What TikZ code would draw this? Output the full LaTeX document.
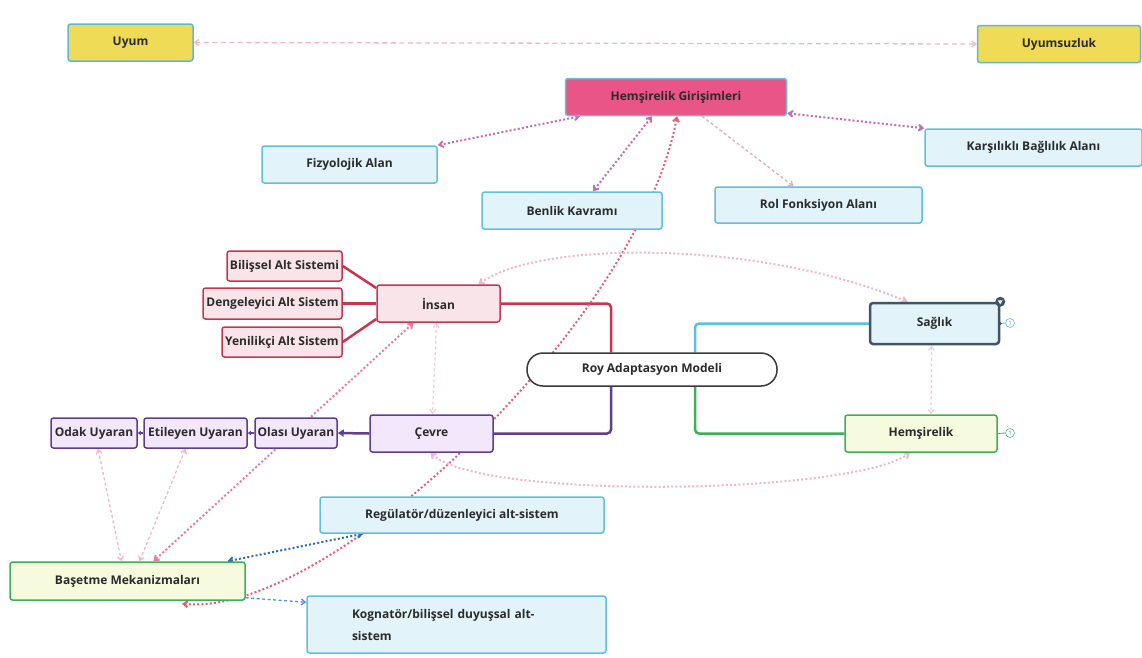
\documentclass[tikz,border=0pt]{standalone}
\usepackage{fontspec}
\setmainfont{Open Sans}
\usetikzlibrary{arrows.meta,backgrounds}
\definecolor{txt}{HTML}{2B2B2B}
\definecolor{yelfill}{HTML}{EFDB55}
\definecolor{tealb}{HTML}{5EB9CC}
\definecolor{hgfill}{HTML}{E95587}
\definecolor{bluefill}{HTML}{E2F3FA}
\definecolor{blueb}{HTML}{62BFD9}
\definecolor{redb}{HTML}{C73651}
\definecolor{redfill}{HTML}{F8E4E9}
\definecolor{purpb}{HTML}{5F3E8E}
\definecolor{purpfill}{HTML}{F2E7FB}
\definecolor{greenb}{HTML}{3DAF58}
\definecolor{greenfill}{HTML}{F6FADF}
\definecolor{roybord}{HTML}{3A3A3A}
\definecolor{sagb}{HTML}{3F5566}
\definecolor{relpurp}{HTML}{C66CB4}
\definecolor{relred}{HTML}{E0607E}
\definecolor{relpink}{HTML}{E57C9B}
\definecolor{lightpink}{HTML}{F2B6C6}
\definecolor{palepink}{HTML}{F5CBD7}
\definecolor{relgray}{HTML}{D9AFC2}
\definecolor{relblue}{HTML}{2E6DB4}
\definecolor{relblue2}{HTML}{5A8FD6}
\definecolor{cyanline}{HTML}{5BC0DE}
\begin{document}
\begin{tikzpicture}[x=1pt,y=-1pt,
  font=\fontsize{12}{14}\selectfont\bfseries,
  base/.style={draw, rounded corners=2.5pt, line width=1.5pt, text=txt, inner sep=0pt, minimum height=37pt},
  yelbox/.style={base, fill=yelfill, draw=tealb},
  hgbox/.style={base, fill=hgfill, draw=blueb},
  bluebox/.style={base, fill=bluefill, draw=blueb},
  redbox/.style={base, fill=redfill, draw=redb, minimum height=30pt},
  purpbox/.style={base, fill=purpfill, draw=purpb, minimum height=30pt},
  greenbox/.style={base, fill=greenfill, draw=greenb},
  tree/.style={line width=2.5pt, rounded corners=4pt},
  barbs/.style={{Straight Barb[length=4pt,width=6pt]}-{Straight Barb[length=4pt,width=6pt]}},
  onebarb/.style={-{Straight Barb[length=4pt,width=6pt]}},
  reldot/.style={line width=2pt, dash pattern=on 2pt off 2.2pt, barbs},
  relthin/.style={line width=1.3pt, dash pattern=on 3pt off 2.5pt, barbs},
  counter/.style={circle, draw=cyanline, line width=0.6pt, fill=white, inner sep=0pt, minimum size=9pt, font=\fontsize{6}{6}\selectfont\mdseries, text=cyanline!80!black}
]
\useasboundingbox (0,0) rectangle (1142,657);

% top
\node[yelbox, minimum width=125pt] (uyum) at (130.5,42.5) {Uyum};
\node[yelbox, minimum width=163pt] (uyz) at (1059,44) {Uyumsuzluk};
\node[hgbox, minimum width=221pt] (hg) at (676,97) {Hemşirelik Girişimleri};
\node[bluebox, minimum width=175pt] (fiz) at (349.5,164.5) {Fizyolojik Alan};
\node[bluebox, minimum width=180pt] (ben) at (572,210.5) {Benlik Kavramı};
\node[bluebox, minimum width=207pt, minimum height=36pt] (rol) at (818.5,205) {Rol Fonksiyon Alanı};
\node[bluebox, minimum width=217pt] (kar) at (1033.5,147.5) {Karşılıklı Bağlılık Alanı};

% insan cluster
\node[redbox, minimum width=115pt] (bil) at (284.5,266) {Bilişsel Alt Sistemi};
\node[redbox, minimum width=139pt, minimum height=31pt] (den) at (272.5,303.5) {Dengeleyici Alt Sistem};
\node[redbox, minimum width=120pt] (yen) at (282,342) {Yenilikçi Alt Sistem};
\node[redbox, minimum width=123pt, minimum height=37pt] (ins) at (438.5,303.5) {İnsan};

% center
\node[base, fill=white, draw=roybord, rounded corners=16pt, minimum width=250pt, minimum height=33pt] (roy) at (652,369.5) {Roy Adaptasyon Modeli};
\node[base, fill=bluefill, draw=sagb, line width=2.5pt, rounded corners=3pt, minimum width=129pt, minimum height=41pt] (sag) at (934.5,323.5) {Sağlık};
\node[greenbox, minimum width=152pt] (hem) at (921,433.5) {Hemşirelik};

% cevre cluster
\node[purpbox, minimum width=123pt, minimum height=37pt] (cev) at (431.5,433.5) {Çevre};
\node[purpbox, minimum width=82pt] (ola) at (296,433) {Olası Uyaran};
\node[purpbox, minimum width=103pt] (eti) at (195.5,433) {Etileyen Uyaran};
\node[purpbox, minimum width=86pt] (odak) at (94,433) {Odak Uyaran};

% bottom
\node[bluebox, minimum width=284pt, minimum height=36pt] (reg) at (462,515) {Regülatör/düzenleyici alt-sistem};
\node[greenbox, minimum width=235pt, minimum height=38pt] (bas) at (127.5,581) {Başetme Mekanizmaları};
\node[bluebox, minimum width=299pt, minimum height=57pt, text width=299pt, align=left, font=\fontsize{12}{22}\selectfont\bfseries] (kog) at (456.5,624.5) {\hspace*{45pt}Kognatör/bilişsel duyuşsal alt-\\\hspace*{45pt}sistem};

% counters and pin
\node[counter] (sagc) at (1010,323) {1};
\node[counter, draw=greenb!60!cyanline, text=greenb!80!black] (hemc) at (1010,433) {1};
\draw[cyanline, line width=0.8pt] (sag.east) -- (sagc.west);
\fill[sagb] (sag.east) circle (1.5pt);
\draw[greenb, line width=0.8pt] (hem.east) -- (hemc.west);
\node[circle, fill=sagb, inner sep=0pt, minimum size=10pt] (pin) at (sag.north east) {};
\fill[white] ([xshift=-2.5pt,yshift=1.5pt]pin.center) -- ([xshift=2.5pt,yshift=1.5pt]pin.center) -- ([yshift=-2.5pt]pin.center) -- cycle;

\begin{scope}[on background layer]
% tree connectors
\draw[tree, redb] (ins.east) -| ([xshift=-41pt]roy.north);
\draw[tree, purpb] ([xshift=-41pt]roy.south) |- (cev.east);
\draw[tree, cyanline] ([xshift=43pt]roy.north) |- (sag.west);
\draw[tree, greenb] ([xshift=43pt]roy.south) |- (hem.west);
\draw[redb, line width=2.5pt] (bil.east) -- ([yshift=15.5pt]ins.west);
\draw[redb, line width=2.5pt] (den.east) -- (ins.west);
\draw[redb, line width=2.5pt] (yen.east) -- ([yshift=-15.5pt]ins.west);
\draw[purpb, line width=2.5pt, -{Triangle[length=6pt,width=7pt]}] (cev.west) -- (ola.east);
\draw[purpb, line width=1.3pt, -{Triangle[length=3pt,width=4pt]}] (ola.west) -- (eti.east);
\draw[purpb, line width=1.3pt, -{Triangle[length=3pt,width=4pt]}] (eti.west) -- (odak.east);

% relationship lines
\draw[relthin, lightpink, dash pattern=on 5pt off 3.5pt] (uyum.east) -- (uyz.west);
\draw[reldot, relpurp] ([xshift=-96pt]hg.south) -- (fiz.north east);
\draw[reldot, relpurp] ([xshift=-24pt]hg.south) -- ([xshift=21pt]ben.north);
\draw[reldot, relpurp] ([yshift=3pt]hg.south east) -- (kar.north west);
\draw[relthin, relgray, onebarb] ([xshift=26pt]hg.south) -- ([xshift=-25pt]rol.north);
\draw[reldot, relred] ([xshift=54.5pt,yshift=-3pt]bas.south) .. controls (330,618) and (640,320) .. ([xshift=1pt]hg.south);
\draw[reldot, lightpink] ([xshift=40pt]ins.north) .. controls (540,240) and (760,240) .. ([xshift=-27pt]sag.north);
\draw[relthin, palepink] ([xshift=-2pt]ins.south) -- ([xshift=1pt]cev.north);
\draw[reldot, relpink] ([xshift=-25pt]ins.south) -- ([xshift=26pt]bas.north);
\draw[relthin, lightpink] ([xshift=4pt]odak.south) -- ([xshift=-6pt]bas.north);
\draw[relthin, lightpink] ([xshift=-10pt]eti.south) -- ([xshift=12pt]bas.north);
\draw[reldot, relblue] ([xshift=-99pt]reg.south) -- ([xshift=100pt]bas.north);
\draw[relthin, relblue2, onebarb] ([yshift=3pt]bas.south east) .. controls (275,600) .. ([yshift=-7pt]kog.north west);
\draw[reldot, lightpink] ([xshift=-1pt]cev.south) .. controls (480,500) and (850,495) .. ([xshift=-11pt]hem.south);
\draw[relthin, palepink] ([xshift=-3pt]sag.south) -- ([xshift=10pt]hem.north);
\end{scope}
\end{tikzpicture}
\end{document}
